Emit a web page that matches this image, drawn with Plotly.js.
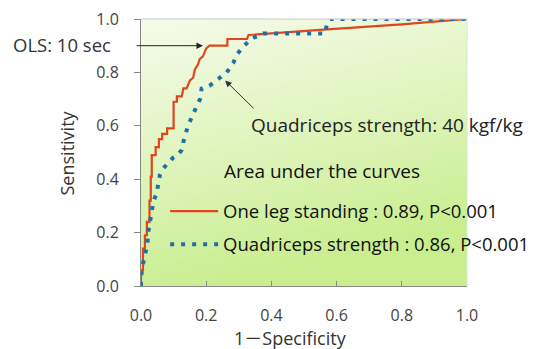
<!DOCTYPE html>
<html>
<head>
<meta charset="utf-8">
<script src="https://cdn.plot.ly/plotly-3.0.1.min.js"></script>
<style>html,body{margin:0;padding:0;background:#fff;}#chart{width:547px;height:349px;}</style>
</head>
<body>
<div id="chart"></div>
<script>
// One leg standing ROC curve
const olsFPR = [0, 0, 0.006, 0.006, 0.012, 0.012, 0.018, 0.018, 0.026, 0.026, 0.03, 0.03, 0.033, 0.033, 0.045, 0.045, 0.055, 0.055, 0.065, 0.065, 0.08, 0.08, 0.095, 0.1, 0.1, 0.11, 0.11, 0.125, 0.13, 0.14, 0.15, 0.16, 0.165, 0.175, 0.18, 0.19, 0.2, 0.21, 0.265, 0.265, 0.325, 0.33, 0.56, 0.8, 1.0];
const olsTPR = [0, 0.06, 0.06, 0.14, 0.14, 0.19, 0.19, 0.24, 0.24, 0.32, 0.32, 0.41, 0.41, 0.49, 0.49, 0.52, 0.52, 0.55, 0.55, 0.57, 0.57, 0.59, 0.59, 0.59, 0.69, 0.69, 0.71, 0.71, 0.74, 0.74, 0.77, 0.78, 0.81, 0.83, 0.85, 0.86, 0.89, 0.90, 0.90, 0.925, 0.925, 0.94, 0.96, 0.98, 1.0];
// Quadriceps strength ROC curve
const qsFPR = [0, 0, 0.004, 0.012, 0.02, 0.022, 0.028, 0.032, 0.038, 0.048, 0.053, 0.058, 0.068, 0.083, 0.098, 0.113, 0.125, 0.13, 0.135, 0.144, 0.166, 0.181, 0.186, 0.21, 0.242, 0.263, 0.283, 0.293, 0.313, 0.34, 0.375, 0.565, 0.57, 0.58, 1.0];
const qsTPR = [0, 0.03, 0.07, 0.116, 0.16, 0.2, 0.247, 0.285, 0.316, 0.348, 0.386, 0.416, 0.44, 0.46, 0.48, 0.49, 0.51, 0.54, 0.56, 0.60, 0.66, 0.70, 0.74, 0.75, 0.78, 0.80, 0.835, 0.865, 0.896, 0.927, 0.946, 0.946, 0.98, 1.0, 1.0];
const seriesNames = ['One leg standing : 0.89, P<0.001', 'Quadriceps strength : 0.86, P<0.001'];
const tickVals = [0, 0.2, 0.4, 0.6, 0.8, 1.0];
const tickText = ['0.0', '0.2', '0.4', '0.6', '0.8', '1.0'];

// gradient background image
const cv = document.createElement('canvas');
cv.width = 200; cv.height = 200;
const ctx = cv.getContext('2d');
const g = ctx.createLinearGradient(0, 0, 60, 200);
g.addColorStop(0, '#f6fbec');
g.addColorStop(0.5, '#e0f5bf');
g.addColorStop(1, '#c8ee8e');
ctx.fillStyle = g;
ctx.fillRect(0, 0, 200, 200);
const bgURL = cv.toDataURL('image/png');

const FONT = '"Open Sans", "Noto Sans CJK JP", sans-serif';

const traces = [
  {x: olsFPR, y: olsTPR, name: seriesNames[0], mode: 'lines', legendgroup: 'a',
   line: {color: '#e0461e', width: 2.2}},
  {x: qsFPR, y: qsTPR, name: seriesNames[1], mode: 'lines', legendgroup: 'b',
   line: {color: '#1f6fa3', width: 4, dash: '4px,7px'}}
];

const layout = {
  width: 547, height: 349,
  margin: {l: 141, r: 80, t: 19, b: 63},
  paper_bgcolor: '#ffffff',
  plot_bgcolor: 'rgba(0,0,0,0)',
  font: {family: FONT, color: '#222'},
  showlegend: true,
  legend: {x: 0.074, y: 0.35, xanchor: 'left', yanchor: 'top', bgcolor: 'rgba(0,0,0,0)',
           font: {size: 18.5, color: '#111', family: FONT}, itemwidth: 48, tracegroupgap: 6,
           traceorder: 'grouped'},
  xaxis: {range: [0, 1], tickvals: tickVals, ticktext: tickText, ticks: 'inside', ticklen: 5,
          tickcolor: '#888', showline: true, linecolor: '#888', linewidth: 1, showgrid: false,
          zeroline: false, tickfont: {size: 16, color: '#444'}, ticklabelstandoff: 15, fixedrange: true},
  yaxis: {range: [0, 1], tickvals: tickVals, ticktext: tickText, ticks: 'outside', ticklen: 6,
          tickcolor: '#888', showline: true, linecolor: '#888', linewidth: 1, showgrid: false,
          zeroline: false, tickfont: {size: 16, color: '#444'}, ticklabelstandoff: 12, fixedrange: true},
  images: [{source: bgURL, xref: 'x', yref: 'y', x: 0, y: 1, sizex: 1, sizey: 1,
            sizing: 'stretch', layer: 'below', xanchor: 'left', yanchor: 'top'}],
  shapes: [
    {type: 'line', xref: 'paper', yref: 'paper', x0: 0, x1: 1, y0: 1, y1: 1, line: {color: '#c8c8c8', width: 1}},
    {type: 'line', xref: 'paper', yref: 'paper', x0: 1, x1: 1, y0: 0, y1: 1, line: {color: '#d8e8c8', width: 1}}
  ],
  annotations: [
    {xref: 'paper', yref: 'paper', x: -0.227, y: 0.5, xanchor: 'center', yanchor: 'middle',
     text: 'Sensitivity', textangle: -90, showarrow: false, font: {size: 18, color: '#333'}},
    {xref: 'paper', yref: 'paper', x: 0.46, y: -0.195, xanchor: 'center', yanchor: 'middle',
     text: '1－Specificity', showarrow: false, font: {size: 18, color: '#333'}},
    {xref: 'paper', yref: 'paper', x: -0.242, y: 0.903, xanchor: 'center', yanchor: 'middle',
     text: 'OLS: 10 sec', showarrow: false, font: {size: 18.5, color: '#333'}},
    {xref: 'x', yref: 'y', axref: 'x', ayref: 'y', x: 0.19, y: 0.90, ax: -0.018, ay: 0.90, text: '',
     showarrow: true, arrowhead: 2, arrowsize: 1.3, arrowwidth: 1, arrowcolor: '#222'},
    {xref: 'paper', yref: 'paper', x: 0.331, y: 0.603, xanchor: 'left', yanchor: 'middle',
     text: 'Quadriceps strength: 40 kgf/kg', showarrow: false, font: {size: 19, color: '#222'}},
    {xref: 'x', yref: 'y', axref: 'x', ayref: 'y', x: 0.258, y: 0.77, ax: 0.35, ay: 0.66, text: '',
     showarrow: true, arrowhead: 2, arrowsize: 1.3, arrowwidth: 1, arrowcolor: '#333'},
    {xref: 'paper', yref: 'paper', x: 0.248, y: 0.431, xanchor: 'left', yanchor: 'middle',
     text: 'Area under the curves', showarrow: false, font: {size: 19, color: '#111'}}
  ]
};

Plotly.newPlot('chart', traces, layout, {displayModeBar: false, staticPlot: true});
</script>
</body>
</html>
